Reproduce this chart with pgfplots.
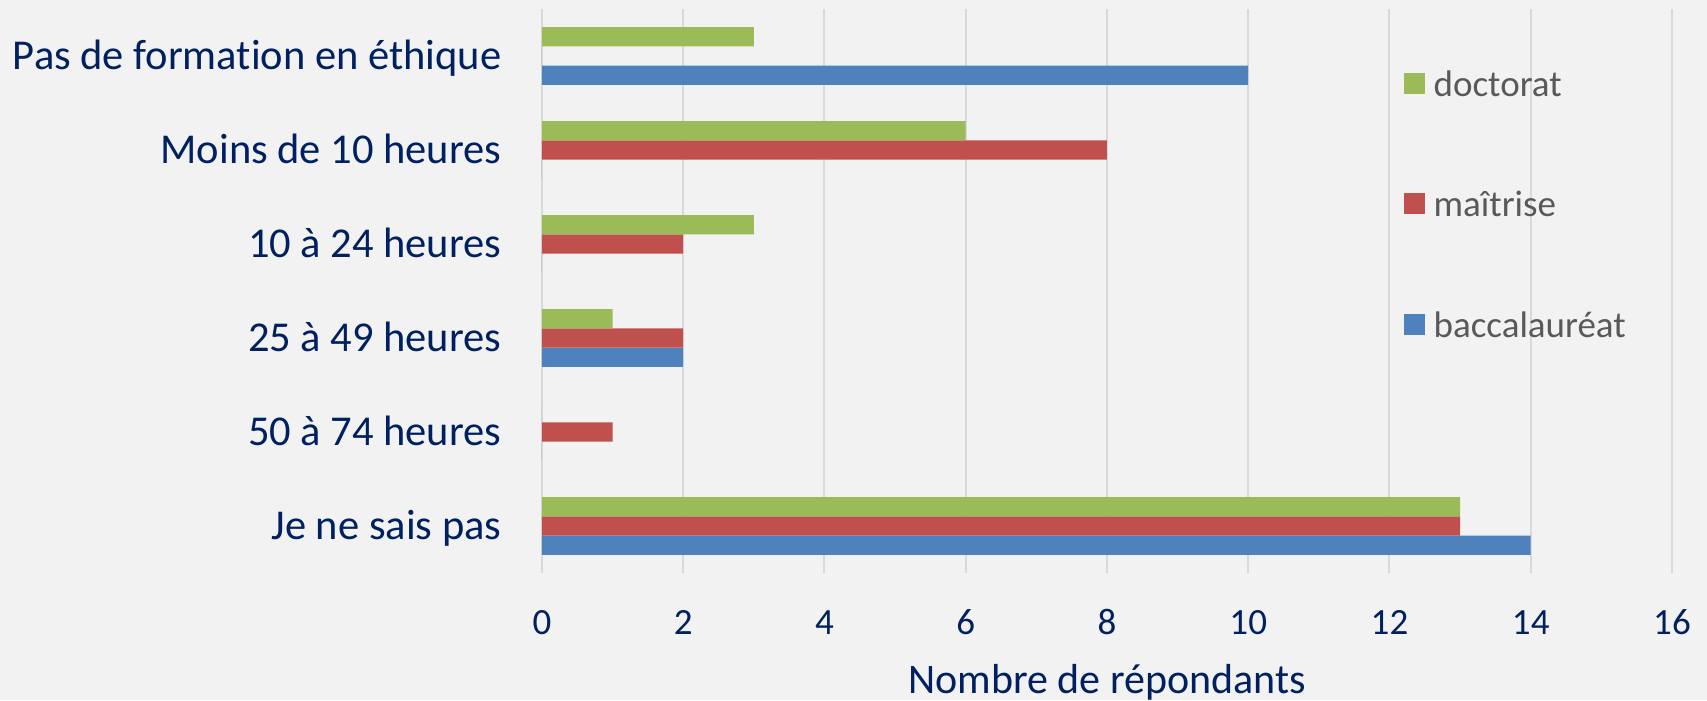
\documentclass[border=0pt]{standalone}
\usepackage{pgfplots}
\pgfplotsset{compat=1.18}
\usepackage{fontspec}
\setmainfont[Ligatures=NoCommon]{Carlito}
\definecolor{bgc}{HTML}{F2F2F2}
\definecolor{gridc}{HTML}{D9D9D9}
\definecolor{navy}{RGB}{0,32,96}
\definecolor{legc}{HTML}{595959}
\definecolor{cbac}{HTML}{4F81BD}
\definecolor{cmai}{HTML}{C0504D}
\definecolor{cdoc}{HTML}{9BBB59}
\begin{document}
\begin{tikzpicture}
\fill[bgc] (0,0) rectangle (512.1pt,210pt);
\path[use as bounding box] (0,0) rectangle (512.1pt,210pt);
\begin{axis}[
  at={(162.6pt,38.1pt)}, anchor=south west,
  scale only axis, width=339pt, height=169.2pt,
  xbar, bar width=0.205,
  xmin=0, xmax=16, ymin=-0.5, ymax=5.5,
  xtick={0,2,...,16},
  ytick={0,1,2,3,4,5},
  yticklabels={Je ne sais pas,50 à 74 heures,25 à 49 heures,10 à 24 heures,Moins de 10 heures,Pas de formation en éthique},
  axis line style={draw=none},
  major tick length=0pt,
  xmajorgrids, ymajorgrids=false,
  major grid style={gridc, line width=0.6pt},
  /pgf/number format/assume math mode=true,
  xticklabel style={font=\fontsize{11.1pt}{13pt}\selectfont, text=navy, anchor=base, inner sep=0pt, yshift=-18.3pt},
  yticklabel style={font=\fontsize{12.75pt}{15pt}\selectfont, text=navy, anchor=base east, inner sep=0pt, xshift=-12pt, yshift=-3.9pt},
  xlabel={Nombre de répondants},
  xlabel style={font=\fontsize{12.6pt}{15pt}\selectfont, text=navy, at={(axis description cs:0.5,0)}, anchor=base, inner sep=0pt, yshift=-36pt},
  legend image code/.code={\fill[#1] (0pt,-2pt) rectangle (6.3pt,4.3pt);},
  reverse legend,
  legend cell align=left,
  legend style={at={(rel axis cs:0.7628,0.8929)}, anchor=north west, draw=none, fill=none, inner sep=0pt, outer sep=0pt,
    row sep=25.65pt, column sep=2.6pt,
    font=\fontsize{11.1pt}{13pt}\selectfont, text=legc,
    nodes={text height=8pt, text depth=2.5pt, inner sep=0pt}},
]
\addplot[fill=cbac, draw=none, bar shift=-0.205] coordinates {(14,0) (0,1) (2,2) (0,3) (0,4) (10,5)};
\addplot[fill=cmai, draw=none, bar shift=0] coordinates {(13,0) (1,1) (2,2) (2,3) (8,4) (0,5)};
\addplot[fill=cdoc, draw=none, bar shift=0.205] coordinates {(13,0) (0,1) (1,2) (3,3) (6,4) (3,5)};
\legend{baccalauréat,maîtrise,doctorat}
\end{axis}
\end{tikzpicture}
\end{document}
